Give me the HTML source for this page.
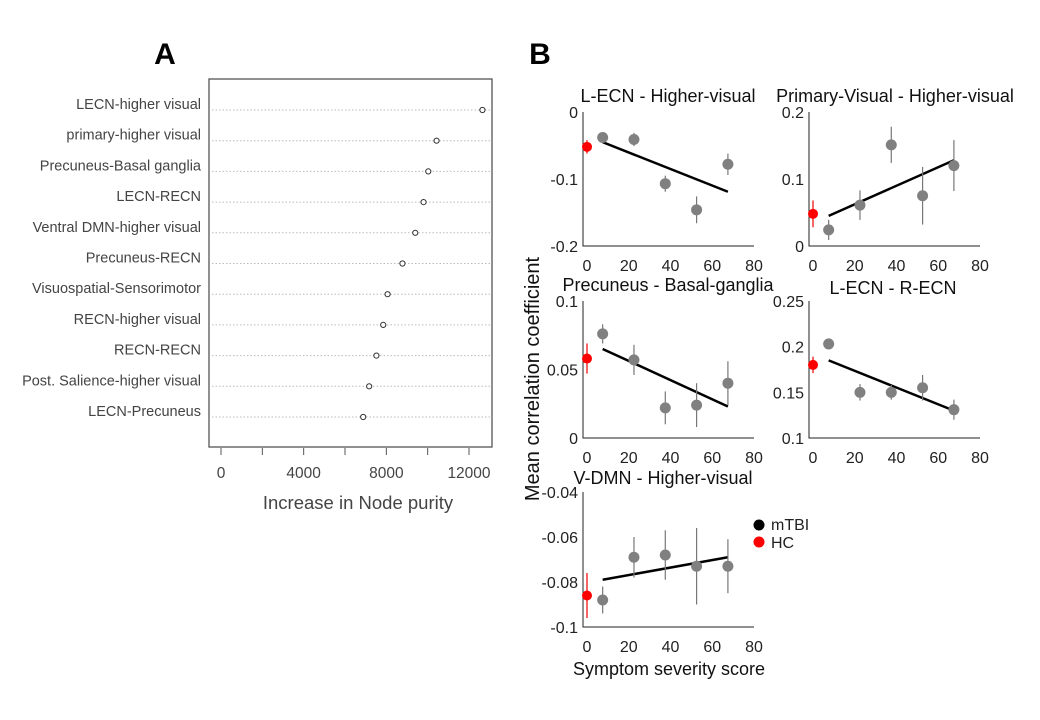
<!DOCTYPE html>
<html><head><meta charset="utf-8">
<style>
body{margin:0;background:#fff;}
svg{display:block;font-family:"Liberation Sans",Arial,sans-serif;}
</style></head>
<body>
<svg id="fig" width="1040" height="720" viewBox="0 0 1040 720">
<text x="165" y="64" font-size="30" font-weight="bold" text-anchor="middle">A</text>
<text x="540" y="64" font-size="30" font-weight="bold" text-anchor="middle">B</text>
<g id="pa"></g>
<g id="pb"></g>
<text transform="translate(539,379) rotate(-90)" font-size="20" text-anchor="middle" fill="#111">Mean correlation coefficient</text>
<text x="669" y="675" font-size="18" text-anchor="middle" fill="#111">Symptom severity score</text>
<g>
<circle cx="759" cy="525" r="5.5" fill="#000"/>
<text x="771" y="530" font-size="16" fill="#222">mTBI</text>
<circle cx="759" cy="542" r="5.5" fill="#f00"/>
<text x="771" y="548" font-size="16" fill="#222">HC</text>
</g>
</svg>
<script>
const NS='http://www.w3.org/2000/svg';
function mk(p,t,a){const e=document.createElementNS(NS,t);for(const k in a)e.setAttribute(k,a[k]);p.appendChild(e);return e;}

// Panel A data
const featNames=["LECN-higher visual","primary-higher visual","Precuneus-Basal ganglia","LECN-RECN","Ventral DMN-higher  visual","Precuneus-RECN","Visuospatial-Sensorimotor","RECN-higher visual","RECN-RECN","Post. Salience-higher visual","LECN-Precuneus"];
const featValues=[12650,10430,10030,9800,9400,8780,8060,7850,7520,7170,6880];
const aTicks=[0,4000,8000,12000];

(function(){
  const g=document.getElementById('pa');
  const x=v=>221+v*(469-221)/12000;
  const y=i=>110+i*30.7;
  const box=mk(g,'rect',{x:209,y:79,width:283,height:368,fill:'none',stroke:'#555','stroke-width':1.3});
  
  
  featNames.forEach((n,i)=>{
    const l=mk(g,'line',{x1:212,x2:491,y1:y(i),y2:y(i),stroke:'#bbb','stroke-dasharray':'1.5,2'});
    
    
    const t=mk(g,'text',{x:201,y:y(i)-1,'font-size':14.5,fill:'#444','text-anchor':'end'});
    t.textContent=n;
    
    
    const c=mk(g,'circle',{cx:x(featValues[i]),cy:y(i),r:2.6,fill:'#fff',stroke:'#333','stroke-width':1});
    
    
  });
  for(let v=0;v<=12000;v+=2000){
    const tk=mk(g,'line',{x1:x(v),x2:x(v),y1:448,y2:455,stroke:'#555'});
    
    
  }
  aTicks.forEach(v=>{
    const t=mk(g,'text',{x:x(v),y:478,'font-size':15.5,fill:'#444','text-anchor':'middle'});
    t.textContent=v;
    
    
  });
  const tt=mk(g,'text',{x:358,y:509,'font-size':18.5,fill:'#444','text-anchor':'middle'});
  tt.textContent='Increase in Node purity';
  
  
})();

// Panel B data
const severityX=[7.5,22.5,37.5,52.5,67.5];
const p1Mean=[-0.038,-0.041,-0.107,-0.146,-0.078];
const p1Err=[0.008,0.01,0.012,0.02,0.016];
const p1HC=[-0.052,0.01];
const p1Fit=[-0.045,-0.119];
const p2Mean=[0.024,0.061,0.151,0.075,0.12];
const p2Err=[0.015,0.022,0.027,0.043,0.038];
const p2HC=[0.048,0.02];
const p2Fit=[0.045,0.128];
const p3Mean=[0.076,0.057,0.022,0.024,0.04];
const p3Err=[0.007,0.011,0.012,0.016,0.016];
const p3HC=[0.058,0.011];
const p3Fit=[0.065,0.023];
const p4Mean=[0.203,0.15,0.15,0.155,0.131];
const p4Err=[0.006,0.009,0.008,0.014,0.011];
const p4HC=[0.18,0.009];
const p4Fit=[0.185,0.13];
const p5Mean=[-0.088,-0.069,-0.068,-0.073,-0.073];
const p5Err=[0.006,0.009,0.011,0.017,0.012];
const p5HC=[-0.086,0.01];
const p5Fit=[-0.079,-0.069];
const xTicks=[0,20,40,60,80];

function panel(name,title,tx,ty,x0,yTop,yBot,ymin,ymax,yTicks,mean,err,hc,fit){
  const g=mk(document.getElementById('pb'),'g',{});
  
  
  const X=v=>x0+4+v*(167/80);
  const Y=v=>yBot-(v-ymin)/(ymax-ymin)*(yBot-yTop);
  const ax=mk(g,'path',{d:`M${x0},${yTop} V${yBot} H${X(80)}`,fill:'none',stroke:'#222','stroke-width':1});
  
  
  yTicks.forEach(v=>{
    const t=mk(g,'text',{x:x0-5,y:Y(v)+6,'font-size':16,fill:'#222','text-anchor':'end'});
    t.textContent=v;
    
    
  });
  xTicks.forEach(v=>{
    const t=mk(g,'text',{x:X(v),y:yBot+25,'font-size':16,fill:'#222','text-anchor':'middle'});
    t.textContent=v;
    
    
  });
  const tt=mk(g,'text',{x:tx,y:ty,'font-size':18,fill:'#111','text-anchor':'middle'});
  tt.textContent=title;
  
  
  const f=mk(g,'line',{x1:X(severityX[0]),x2:X(severityX[4]),y1:Y(fit[0]),y2:Y(fit[1]),stroke:'#000','stroke-width':2.5});
  
  
  severityX.forEach((sx,i)=>{
    const e=mk(g,'line',{x1:X(sx),x2:X(sx),y1:Y(mean[i]-err[i]),y2:Y(mean[i]+err[i]),stroke:'#777','stroke-width':1.2});
    
    
    const c=mk(g,'circle',{cx:X(sx),cy:Y(mean[i]),r:5.5,fill:'#808080'});
    
    
  });
  const he=mk(g,'line',{x1:X(0),x2:X(0),y1:Y(hc[0]-hc[1]),y2:Y(hc[0]+hc[1]),stroke:'#e00','stroke-width':1.2});
  
  
  const hp=mk(g,'circle',{cx:X(0),cy:Y(hc[0]),r:5,fill:'#f00'});
  
  
}
panel('panel-lecn-higher-visual','L-ECN - Higher-visual',668,102,583,112,246,-0.2,0,[0,-0.1,-0.2],p1Mean,p1Err,p1HC,p1Fit);
panel('panel-primary-higher-visual','Primary-Visual - Higher-visual',895,102,809,112,246,0,0.2,[0.2,0.1,0],p2Mean,p2Err,p2HC,p2Fit);
panel('panel-precuneus-basal-ganglia','Precuneus - Basal-ganglia',668,291,583,301,438,0,0.1,[0.1,0.05,0],p3Mean,p3Err,p3HC,p3Fit);
panel('panel-lecn-recn','L-ECN - R-ECN',893,294,809,301,438,0.1,0.25,[0.25,0.2,0.15,0.1],p4Mean,p4Err,p4HC,p4Fit);
panel('panel-vdmn-higher-visual','V-DMN - Higher-visual',663,484,583,492,627,-0.1,-0.04,[-0.04,-0.06,-0.08,-0.1],p5Mean,p5Err,p5HC,p5Fit);
</script>
</body></html>
